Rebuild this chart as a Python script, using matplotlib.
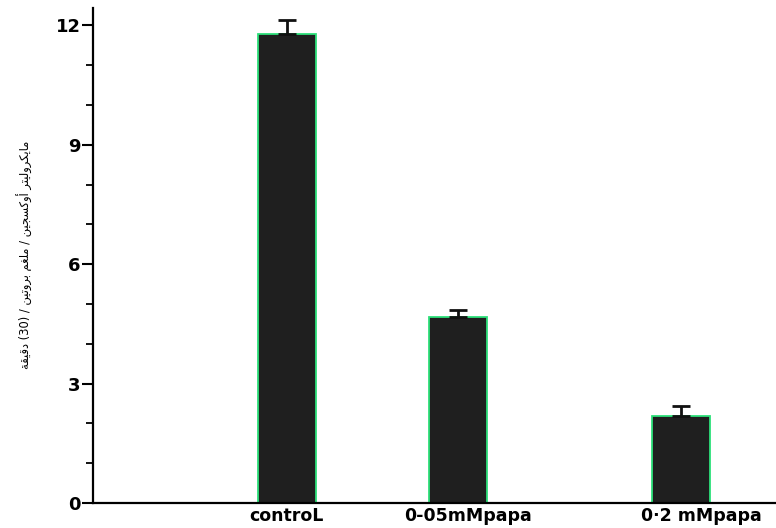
import numpy as np
import matplotlib
matplotlib.use("Agg")
import matplotlib.pyplot as plt
from matplotlib.ticker import MultipleLocator

# data
groups = ["controL", "0-05mMpapa", "0·2 mMpapa"]
rates = [11.78, 4.67, 2.19]
errors = [0.36, 0.18, 0.25]
y_ticks = [0, 3, 6, 9, 12]
y_label = "مايكروليتر أوكسجين / ملغم بروتين / (30) دقيقة"

# layout (pixel-like x units of the original figure)
bar_x = [287, 458, 681]
label_x = [286, 468, 701]
bar_w = 58

# minimal Arabic shaping: isolated, final, initial, medial
FORMS = {
    "ا": ("\uFE8D", "\uFE8E", None, None),
    "أ": ("\uFE83", "\uFE84", None, None),
    "ب": ("\uFE8F", "\uFE90", "\uFE91", "\uFE92"),
    "ة": ("\uFE93", "\uFE94", None, None),
    "ت": ("\uFE95", "\uFE96", "\uFE97", "\uFE98"),
    "ج": ("\uFE9D", "\uFE9E", "\uFE9F", "\uFEA0"),
    "د": ("\uFEA9", "\uFEAA", None, None),
    "ر": ("\uFEAD", "\uFEAE", None, None),
    "س": ("\uFEB1", "\uFEB2", "\uFEB3", "\uFEB4"),
    "غ": ("\uFECD", "\uFECE", "\uFECF", "\uFED0"),
    "ق": ("\uFED5", "\uFED6", "\uFED7", "\uFED8"),
    "ك": ("\uFED9", "\uFEDA", "\uFEDB", "\uFEDC"),
    "ل": ("\uFEDD", "\uFEDE", "\uFEDF", "\uFEE0"),
    "م": ("\uFEE1", "\uFEE2", "\uFEE3", "\uFEE4"),
    "ن": ("\uFEE5", "\uFEE6", "\uFEE7", "\uFEE8"),
    "و": ("\uFEED", "\uFEEE", None, None),
    "ي": ("\uFEF1", "\uFEF2", "\uFEF3", "\uFEF4"),
}


def shape_word(word):
    out = []
    for i, ch in enumerate(word):
        if ch not in FORMS:
            out.append(ch)
            continue
        prev = word[i - 1] if i > 0 else None
        nxt = word[i + 1] if i + 1 < len(word) else None
        dual = FORMS[ch][2] is not None
        pj = prev in FORMS and FORMS[prev][2] is not None
        nj = dual and nxt in FORMS
        if pj and nj:
            out.append(FORMS[ch][3])
        elif pj:
            out.append(FORMS[ch][1])
        elif nj:
            out.append(FORMS[ch][2])
        else:
            out.append(FORMS[ch][0])
    return "".join(out)


def visual(text):
    words = []
    for w in text.split(" "):
        if any(c in FORMS for c in w):
            words.append(shape_word(w)[::-1])
        else:
            words.append(w)
    return " ".join(reversed(words))


W, H = 776, 528
x0, x1 = 93, 776
y_zero, y_top = 503, 8
px_per_unit = 39.8

fig = plt.figure(figsize=(W / 100, H / 100), dpi=100)
ax = fig.add_axes([x0 / W, (H - y_zero) / H, (x1 - x0) / W, (y_zero - y_top) / H])

ax.bar(bar_x, rates, width=bar_w, color="#1f1f1f", edgecolor="#2de07a",
       linewidth=1.3, zorder=2)
ax.errorbar(bar_x, rates, yerr=[np.zeros(len(errors)), errors], fmt="none",
            ecolor="#111111", elinewidth=2.0, capsize=6.5, capthick=2.0, zorder=3)

ax.set_xlim(x0, x1)
ax.set_ylim(0, (y_zero - y_top) / px_per_unit)

for s in ["top", "right"]:
    ax.spines[s].set_visible(False)
ax.spines["left"].set_linewidth(1.6)
ax.spines["bottom"].set_linewidth(1.6)

ax.set_yticks(y_ticks)
ax.set_yticklabels([str(v) for v in y_ticks], fontsize=13, fontweight="bold",
                   family="DejaVu Sans")
ax.yaxis.set_minor_locator(MultipleLocator(1))
ax.tick_params(axis="y", which="major", direction="out", length=8, width=1.5, pad=1)
ax.tick_params(axis="y", which="minor", direction="out", length=5, width=1.3)

ax.set_xticks(label_x)
ax.set_xticklabels(groups, fontsize=12.5, fontweight="bold", family="DejaVu Sans")
ax.tick_params(axis="x", length=0, pad=3)

fig.text(25 / W, 1 - 255 / H, visual(y_label), rotation=90, ha="center", va="center",
         fontsize=8.3, family=["DejaVu Sans"])

fig.savefig("out.png", dpi=100)
